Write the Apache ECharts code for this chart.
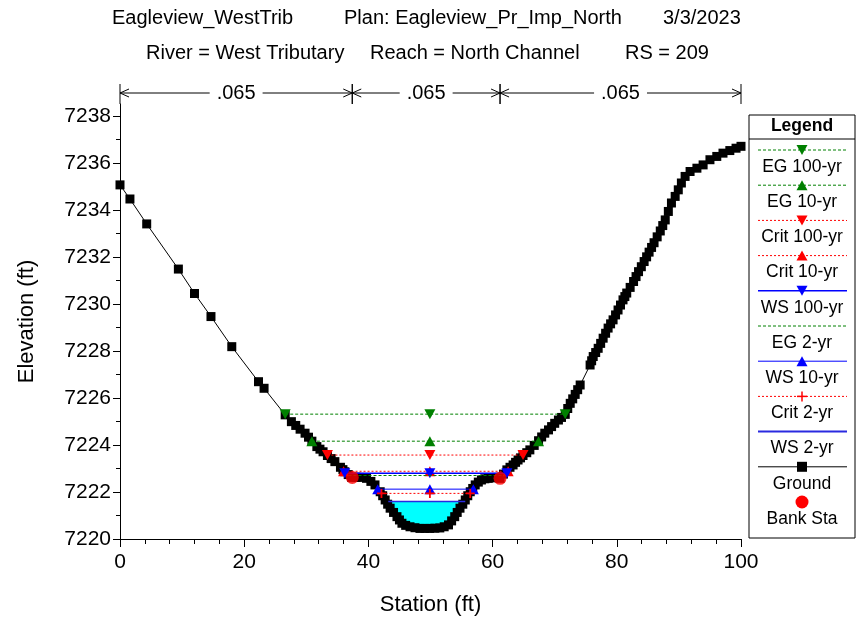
<!DOCTYPE html>
<html><head><meta charset="utf-8">
<script src="https://cdn.jsdelivr.net/npm/echarts@6/dist/echarts.min.js"></script>
<style>html,body{margin:0;padding:0;background:#fff}#c{width:859px;height:621px}</style>
</head><body><div id="c"></div>
<script>
// ---------- DATA ----------
const titleLine1 = ['Eagleview_WestTrib', 'Plan: Eagleview_Pr_Imp_North', '3/3/2023'];
const titleLine2 = ['River = West Tributary', 'Reach = North Channel', 'RS = 209'];

const groundSta = [0, 1.6, 4.3, 9.4, 12.0, 14.65, 18.0, 22.3, 23.2,
  26.6, 27.6, 28.3, 29.0, 29.8, 30.35, 30.9, 31.7, 32.2, 32.7, 33.4, 34.0, 34.6, 35.5, 35.9, 36.2, 36.75, 37.3,
  38.0, 38.6, 39.7, 40.4, 41.06, 41.9, 42.3, 42.7, 43.1, 43.5, 44.05, 44.6, 45.0, 45.4, 46.0, 46.7, 47.5, 48.3, 49.1, 49.9,
  50.7, 51.5, 52.2, 52.9, 53.4, 53.9, 54.3, 54.75, 55.2, 55.6, 56.0, 56.4, 56.8, 57.2, 57.7, 58.2, 58.75, 59.3, 59.95, 60.6, 61.2,
  61.75, 62.3, 62.8, 63.3, 63.7, 64.1, 64.5, 64.9, 65.5, 66.0, 66.7, 67.4, 67.9, 68.4, 69.0, 69.5, 70.0, 70.6, 71.1, 71.7,
  72.1, 72.5, 72.9, 73.3, 73.7, 74.1, 75.7, 75.95, 76.2, 76.6, 77.0, 77.4, 77.8, 78.2, 78.6, 79.0, 79.4, 79.8, 80.2, 80.6,
  81.0, 81.3, 81.6, 82.15, 82.7, 83.1, 83.5, 83.95, 84.4, 84.8, 85.2, 85.6, 86.0, 86.5, 87.0, 87.4, 87.8, 88.3, 88.8, 89.4,
  89.9, 90.4, 91.0, 91.8, 92.9, 93.9, 95.0, 96.1, 97.1, 98.2, 99.2, 100];
const groundElev = [7235.06, 7234.46, 7233.40, 7231.48, 7230.44, 7229.46, 7228.18, 7226.69, 7226.41,
  7225.28, 7224.99, 7224.83, 7224.67, 7224.50, 7224.33, 7224.16, 7223.93, 7223.82, 7223.71, 7223.55, 7223.42, 7223.29, 7223.05, 7222.95, 7222.86, 7222.74, 7222.62,
  7222.63, 7222.62, 7222.58, 7222.45, 7222.30, 7222.01, 7221.84, 7221.66, 7221.48, 7221.31, 7221.13, 7220.95, 7220.81, 7220.67, 7220.58, 7220.52, 7220.48, 7220.45, 7220.45, 7220.45,
  7220.46, 7220.47, 7220.52, 7220.60, 7220.77, 7220.95, 7221.13, 7221.31, 7221.48, 7221.66, 7221.84, 7222.01, 7222.15, 7222.30, 7222.42, 7222.51, 7222.56, 7222.58, 7222.60, 7222.62, 7222.58,
  7222.76, 7222.94, 7223.05, 7223.15, 7223.26, 7223.36, 7223.45, 7223.55, 7223.67, 7223.79, 7223.98, 7224.18, 7224.34, 7224.50, 7224.64, 7224.78, 7224.92, 7225.06, 7225.17, 7225.30,
  7225.55, 7225.77, 7225.96, 7226.15, 7226.35, 7226.55, 7227.40, 7227.58, 7227.76, 7227.93, 7228.11, 7228.32, 7228.54, 7228.75, 7228.97, 7229.15, 7229.32, 7229.53, 7229.74, 7229.95,
  7230.17, 7230.31, 7230.46, 7230.70, 7230.95, 7231.16, 7231.37, 7231.58, 7231.80, 7232.00, 7232.20, 7232.40, 7232.60, 7232.85, 7233.10, 7233.33, 7233.57, 7233.93, 7234.29, 7234.57,
  7234.85, 7235.14, 7235.42, 7235.63, 7235.77, 7235.91, 7236.13, 7236.27, 7236.41, 7236.52, 7236.62, 7236.70];

const levelNames = ['EG 100-yr', 'EG 10-yr', 'Crit 100-yr', 'Crit 10-yr', 'WS 100-yr', 'EG 2-yr', 'WS 10-yr', 'Crit 2-yr', 'WS 2-yr'];
const levelElev  = [7225.31, 7224.16, 7223.57, 7222.88, 7222.80, 7222.70, 7222.12, 7221.94, 7221.59];
const levelLeft  = [26.6, 30.9, 33.4, 36.0, 36.2, 36.8, 41.5, 42.1, 43.2];
const levelRight = [71.7, 67.4, 64.9, 62.5, 62.3, 62.0, 56.9, 56.4, 55.6];
const levelMid = 49.9;

const bankSta = [37.4, 61.2];
const bankElev = [7222.62, 7222.58];

const nBounds = [0, 37.4, 61.2, 100];
const nValues = ['.065', '.065', '.065'];

const xTickValues = [0, 20, 40, 60, 80, 100];
const yTickValues = [7220, 7222, 7224, 7226, 7228, 7230, 7232, 7234, 7236, 7238];

// ---------- STYLES ----------
const FONT = 'Liberation Sans, Arial, sans-serif';
const PLUS = 'path://M4,0H6V4H10V6H6V10H4V6H0V4H4Z';
const styles = {
  'EG 100-yr':  {color: '#008000', type: [3, 2], width: 1, symbol: 'triangle', rotate: 180},
  'EG 10-yr':   {color: '#008000', type: [3, 2], width: 1, symbol: 'triangle', rotate: 0},
  'Crit 100-yr':{color: '#ff0000', type: [2, 2], width: 1, symbol: 'triangle', rotate: 180},
  'Crit 10-yr': {color: '#ff0000', type: [2, 2], width: 1, symbol: 'triangle', rotate: 0},
  'WS 100-yr':  {color: '#0000ff', type: 'solid', width: 1.5, symbol: 'triangle', rotate: 180},
  'EG 2-yr':    {color: '#008000', type: [3, 2], width: 1, symbol: 'none', rotate: 0},
  'WS 10-yr':   {color: '#0000ff', type: 'solid', width: 1, symbol: 'triangle', rotate: 0},
  'Crit 2-yr':  {color: '#ff0000', type: [2, 2], width: 1, symbol: PLUS, rotate: 0},
  'WS 2-yr':    {color: '#2a2ae0', type: 'solid', width: 1.5, symbol: 'none', rotate: 0}
};

// ---------- BUILD ----------
const groundData = groundSta.map((s, i) => [s, groundElev[i]]);
const ws2 = levelElev[8];
const waterPoly = [[levelLeft[8], ws2]]
  .concat(groundData.filter(p => p[0] > levelLeft[8] && p[0] < levelRight[8]))
  .concat([[levelRight[8], ws2]]);

const series = [];
series.push({
  type: 'custom', xAxisIndex: 0, yAxisIndex: 0, z: 1, silent: true,
  data: [[levelLeft[8], ws2]],
  renderItem: (params, api) => ({
    type: 'polygon',
    shape: {points: waterPoly.map(p => api.coord(p))},
    style: {fill: '#00ffff'}
  })
});
series.push({
  name: 'Ground', type: 'line', data: groundData, z: 2,
  symbol: 'rect', symbolSize: 9, showAllSymbol: true,
  lineStyle: {color: '#000', width: 1},
  itemStyle: {color: '#000'}
});
levelNames.forEach((nm, i) => {
  const st = styles[nm];
  series.push({
    name: nm, type: 'line', z: 3 + i * 0.01,
    data: [[levelLeft[i], levelElev[i]], [levelMid, levelElev[i]], [levelRight[i], levelElev[i]]],
    symbol: st.symbol, symbolSize: st.symbol === PLUS ? 9 : [11, 10], symbolRotate: st.rotate,
    showAllSymbol: true,
    lineStyle: {color: st.color, type: st.type, width: st.width},
    itemStyle: {color: st.color}
  });
});
series.push({
  name: 'Bank Sta', type: 'scatter', z: 5,
  data: bankSta.map((s, i) => [s, bankElev[i]]),
  symbol: 'circle', symbolSize: 13, itemStyle: {color: '#ff0000'}
});
// n-value annotation
series.push({
  type: 'custom', xAxisIndex: 1, yAxisIndex: 1, z: 5, silent: true,
  data: nValues.map((v, i) => [nBounds[i], nBounds[i + 1]]),
  renderItem: (params, api) => {
    const x1 = api.value(0), x2 = api.value(1);
    const a = api.coord([x1, 0.55]), b = api.coord([x2, 0.55]);
    const t1 = api.coord([x1, 1]), b1 = api.coord([x1, 0]);
    const t2 = api.coord([x2, 1]), b2 = api.coord([x2, 0]);
    const ls = {stroke: '#000', lineWidth: 1, fill: null};
    const ah = 9, aw = 4;
    return {
      type: 'group', children: [
        {type: 'line', shape: {x1: a[0], y1: a[1], x2: b[0], y2: b[1]}, style: ls},
        {type: 'polyline', shape: {points: [[a[0] + ah, a[1] - aw], a, [a[0] + ah, a[1] + aw]]}, style: ls},
        {type: 'polyline', shape: {points: [[b[0] - ah, b[1] - aw], b, [b[0] - ah, b[1] + aw]]}, style: ls},
        {type: 'line', shape: {x1: t1[0], y1: t1[1], x2: b1[0], y2: b1[1]}, style: ls},
        {type: 'line', shape: {x1: t2[0], y1: t2[1], x2: b2[0], y2: b2[1]}, style: ls},
        {type: 'text', style: {text: nValues[params.dataIndex], x: (a[0] + b[0]) / 2, y: a[1],
          align: 'center', verticalAlign: 'middle', fill: '#000', font: '20px ' + FONT,
          backgroundColor: '#fff', padding: [0, 7]}}
      ]
    };
  }
});

// ---------- LEGEND (graphic) ----------
const LX = 749, LY = 115, LW = 106, LH = 423;
const LCX = LX + LW / 2;
const legendChildren = [
  {type: 'rect', shape: {x: LX, y: LY, width: LW, height: LH}, style: {fill: '#fff', stroke: '#000', lineWidth: 1}},
  {type: 'text', style: {text: 'Legend', x: LCX, y: LY + 11, align: 'center', verticalAlign: 'middle', font: 'bold 17.5px ' + FONT, fill: '#000'}},
  {type: 'line', shape: {x1: LX, y1: LY + 24, x2: LX + LW, y2: LY + 24}, style: {stroke: '#000', lineWidth: 1}}
];
function triPts(cx, cy, down) {
  const w = 5.5, h = 5;
  return down ? [[cx - w, cy - h], [cx + w, cy - h], [cx, cy + h]] : [[cx - w, cy + h], [cx + w, cy + h], [cx, cy - h]];
}
const legendNames = levelNames.concat(['Ground', 'Bank Sta']);
legendNames.forEach((nm, i) => {
  const y = LY + 35 + i * 35.2;
  if (styles[nm]) {
    const st = styles[nm];
    legendChildren.push({type: 'line', shape: {x1: LX + 9, y1: y, x2: LX + 98, y2: y},
      style: {stroke: st.color, lineWidth: nm === 'WS 2-yr' ? 2 : st.width, lineDash: st.type === 'solid' ? null : st.type}});
    if (st.symbol === 'triangle') {
      legendChildren.push({type: 'polygon', shape: {points: triPts(LCX, y, st.rotate === 180)}, style: {fill: st.color}});
    } else if (st.symbol === PLUS) {
      legendChildren.push({type: 'line', shape: {x1: LCX - 5, y1: y, x2: LCX + 5, y2: y}, style: {stroke: st.color, lineWidth: 1.5}});
      legendChildren.push({type: 'line', shape: {x1: LCX, y1: y - 5, x2: LCX, y2: y + 5}, style: {stroke: st.color, lineWidth: 1.5}});
    }
  } else if (nm === 'Ground') {
    legendChildren.push({type: 'line', shape: {x1: LX + 9, y1: y, x2: LX + 98, y2: y}, style: {stroke: '#000', lineWidth: 1}});
    legendChildren.push({type: 'rect', shape: {x: LCX - 5, y: y - 5, width: 10, height: 10}, style: {fill: '#000'}});
  } else {
    legendChildren.push({type: 'circle', shape: {cx: LCX, cy: y, r: 6.5}, style: {fill: '#ff0000'}});
  }
  legendChildren.push({type: 'text', style: {text: nm, x: LCX, y: y + 17, align: 'center', verticalAlign: 'middle', font: '17.5px ' + FONT, fill: '#000'}});
});

const titleChildren = [];
const t1x = [112, 344, 663], t2x = [146, 370, 625];
titleLine1.forEach((t, i) => titleChildren.push({type: 'text', style: {text: t, x: t1x[i], y: 18, verticalAlign: 'middle', font: '20px ' + FONT, fill: '#000'}}));
titleLine2.forEach((t, i) => titleChildren.push({type: 'text', style: {text: t, x: t2x[i], y: 53, verticalAlign: 'middle', font: '20px ' + FONT, fill: '#000'}}));

const chart = echarts.init(document.getElementById('c'), null, {renderer: 'canvas'});
chart.setOption({
  animation: false,
  backgroundColor: '#fff',
  textStyle: {fontFamily: FONT},
  grid: [
    {left: 120, width: 621, top: 104, height: 435},
    {left: 120, width: 621, top: 84, height: 20}
  ],
  xAxis: [
    {type: 'value', gridIndex: 0, min: 0, max: 100, interval: 20,
     name: 'Station (ft)', nameLocation: 'middle', nameGap: 55,
     nameTextStyle: {fontSize: 22, color: '#000', fontFamily: FONT},
     axisLine: {lineStyle: {color: '#000', width: 1}},
     axisTick: {length: 8, lineStyle: {color: '#000'}, customValues: xTickValues},
     minorTick: {show: true, splitNumber: 5, length: 5, lineStyle: {color: '#000'}},
     axisLabel: {fontSize: 21, color: '#000', margin: 13, fontFamily: FONT, customValues: xTickValues,
       formatter: v => String(v)},
     splitLine: {show: false}},
    {type: 'value', gridIndex: 1, min: 0, max: 100, show: false}
  ],
  yAxis: [
    {type: 'value', gridIndex: 0, min: 7220, max: 7238.5, interval: 2,
     name: 'Elevation (ft)', nameLocation: 'middle', nameGap: 82, nameRotate: 90,
     nameTextStyle: {fontSize: 22, color: '#000', fontFamily: FONT},
     axisLine: {show: true, lineStyle: {color: '#000', width: 1}},
     axisTick: {show: true, length: 7, lineStyle: {color: '#000'}, customValues: yTickValues},
     minorTick: {show: true, splitNumber: 2, length: 4, lineStyle: {color: '#000'}},
     axisLabel: {fontSize: 21, color: '#000', margin: 9, fontFamily: FONT, customValues: yTickValues,
       formatter: v => String(v)},
     splitLine: {show: false}},
    {type: 'value', gridIndex: 1, min: 0, max: 1, show: false}
  ],
  series: series,
  graphic: [
    {type: 'group', children: titleChildren},
    {type: 'group', children: legendChildren}
  ]
});
</script>
</body></html>
